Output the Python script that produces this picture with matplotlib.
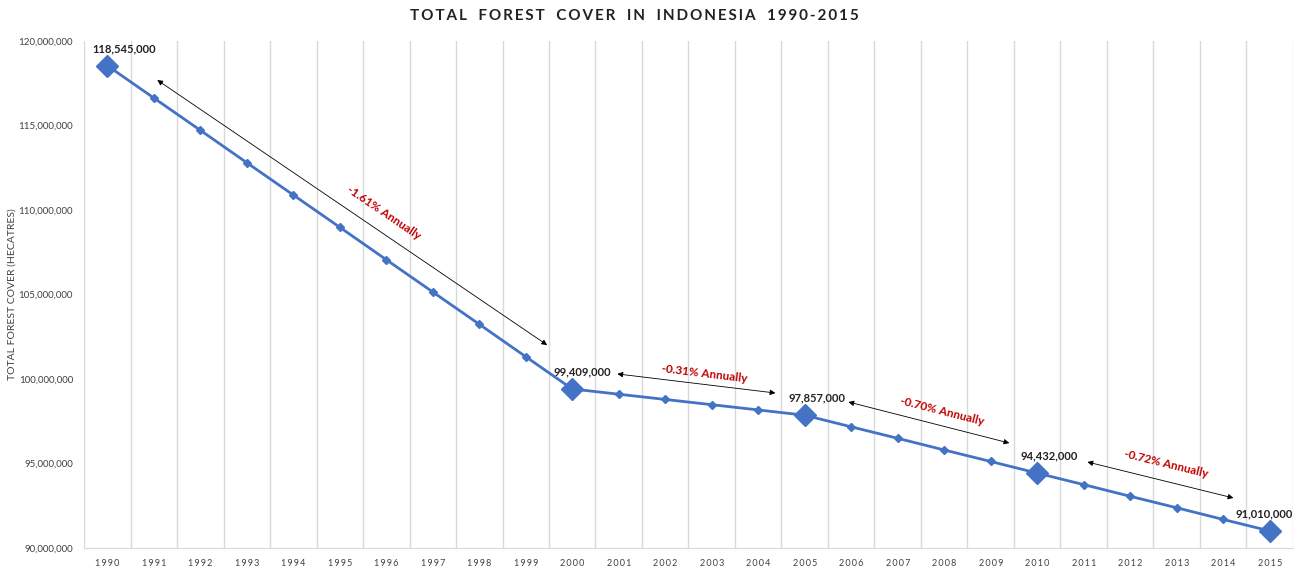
import matplotlib.pyplot as plt
from matplotlib.ticker import FuncFormatter

plt.rcParams['font.family'] = ['Lato', 'DejaVu Sans']

years = list(range(1990, 2016))
forest = [118545000, 116630000, 114720000, 112800000, 110890000, 108980000,
          107060000, 105150000, 103240000, 101320000, 99409000, 99100000,
          98790000, 98480000, 98170000, 97857000, 97170000, 96490000,
          95800000, 95120000, 94432000, 93750000, 93060000, 92380000,
          91690000, 91010000]
key_years = [1990, 2000, 2005, 2010, 2015]
rate_labels = ["-1.61% Annually", "-0.31% Annually", "-0.70% Annually", "-0.72% Annually"]
title = "TOTAL FOREST COVER IN INDONESIA 1990-2015"

blue = '#4472C4'
red = '#C00000'

fig = plt.figure(figsize=(13.01, 5.67), dpi=100)
ax = fig.add_axes([0.0646, 0.0335, 0.9292, 0.8942])

x = list(range(len(years)))
key_idx = [years.index(y) for y in key_years]

ax.plot(x, forest, color=blue, lw=2, marker='D', ms=4.5, zorder=3)
ax.plot([x[i] for i in key_idx], [forest[i] for i in key_idx], ls='none',
        marker='D', ms=11, color=blue, zorder=4)

# data labels on the key years
label_dx = [17, 10, 12, 12, -5]
for i, dx in zip(key_idx, label_dx):
    ax.annotate(f"{forest[i]:,}", (x[i], forest[i]), xytext=(dx, 17),
                textcoords='offset pixels', ha='center', va='center',
                fontsize=8, fontweight='bold', color='#222222')

# double headed arrows and rate texts
arrows = [((1.075, 117.69e6), (9.46, 102.01e6)),
          ((10.97, 100.30e6), (14.37, 99.17e6)),
          ((15.94, 98.64e6), (19.40, 96.21e6)),
          ((21.08, 95.09e6), (24.22, 92.96e6))]
text_pos = [(5.94, 109.82e6, -34.2), (12.84, 100.30e6, -6.9),
            (17.96, 98.11e6, -14.3), (22.77, 94.97e6, -13.8)]
for (a, b), (tx, ty, rot), lab in zip(arrows, text_pos, rate_labels):
    ax.annotate('', xy=b, xytext=a,
                arrowprops=dict(arrowstyle='<|-|>', color='black', lw=0.6,
                                mutation_scale=8, shrinkA=0, shrinkB=0))
    ax.text(tx, ty, lab, rotation=rot, rotation_mode='anchor', ha='center',
            va='center', color=red, fontsize=8.5, fontweight='bold')

ax.set_xlim(-0.5, len(years) - 0.5)
ax.set_ylim(90e6, 120e6)
ax.set_yticks(range(90000000, 120000001, 5000000))
ax.yaxis.set_major_formatter(FuncFormatter(lambda v, p: f"{int(v):,}"))
ax.set_xticks(x)
ax.set_xticklabels(["\u2009".join(str(y)) for y in years])
ax.set_xticks([i - 0.5 for i in range(len(years) + 1)], minor=True)
ax.grid(True, which='minor', axis='x', color='#d9d9d9', lw=1)
ax.tick_params(axis='both', which='both', length=0)
ax.tick_params(axis='x', labelsize=6.5, labelcolor='#404040', pad=8)
ax.tick_params(axis='y', labelsize=7, labelcolor='#404040', pad=8)

for s in ['top', 'right', 'left']:
    ax.spines[s].set_visible(False)
ax.spines['bottom'].set_color('#d9d9d9')

ax.set_ylabel("TOTAL FOREST COVER (HECATRES)", fontsize=7.5, color='#404040', labelpad=1)

spaced = "\u2003".join("\u2009".join(w) for w in title.split(" "))
fig.text(0.4875, 0.972, spaced, ha='center', va='center', fontsize=11,
         fontweight='bold', color='#222222')

fig.savefig('out.png', dpi=100)
